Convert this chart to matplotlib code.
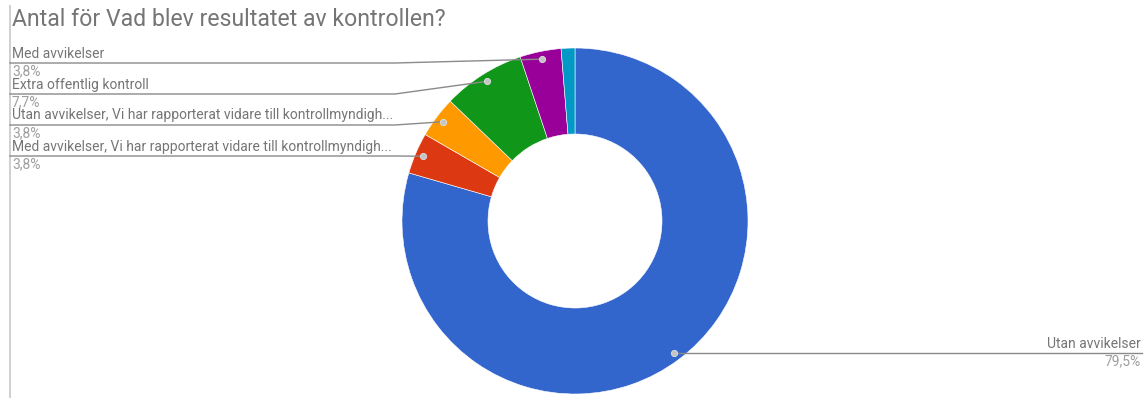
import matplotlib
matplotlib.use("Agg")
import matplotlib.pyplot as plt
import numpy as np

plt.rcParams["font.family"] = ["Roboto", "DejaVu Sans"]

# Survey answers, in the order the ring is drawn (clockwise from 12 o'clock).
# The last, smallest slice has no label shown.
labels = [
    "Utan avvikelser",
    "Med avvikelser, Vi har rapporterat vidare till kontrollmyndigh...",
    "Utan avvikelser, Vi har rapporterat vidare till kontrollmyndigh...",
    "Extra offentlig kontroll",
    "Med avvikelser",
    "",
]
counts = [62, 3, 3, 6, 3, 1]
pct_labels = ["79,5%", "3,8%", "3,8%", "7,7%", "3,8%", ""]
colors = ["#3366CC", "#DC3912", "#FF9900", "#109618", "#990099", "#0099C6"]

TITLE = "Antal för Vad blev resultatet av kontrollen?"

W, H = 1144, 398
CX, CY = 575, H - 221
R_OUT, R_IN = 173, 87

TEXT_C = "#757575"
PCT_C = "#9E9E9E"
LINE_C = "#8A8A8A"
FS = 10

fig = plt.figure(figsize=(W / 100, H / 100), dpi=100)
ax = fig.add_axes([0, 0, 1, 1])

wedges, _ = ax.pie(
    counts,
    colors=colors,
    startangle=90,
    counterclock=False,
    center=(CX, CY),
    radius=R_OUT,
    wedgeprops=dict(width=R_OUT - R_IN, edgecolor="white", linewidth=0.4),
)
ax.set_xlim(0, W)
ax.set_ylim(0, H)
ax.set_aspect("equal")
ax.axis("off")

# left border rule
ax.plot([10, 10], [0, H - 5], color="#C8C8C8", lw=1.2, solid_capstyle="butt")

ax.text(12, H - 20, TITLE, fontsize=16.6, color=TEXT_C, va="center", ha="left")


def anchor(w, frac=0.955):
    mid = np.deg2rad((w.theta1 + w.theta2) / 2)
    return CX + R_OUT * frac * np.cos(mid), CY + R_OUT * frac * np.sin(mid)


def dot(x, y):
    ax.plot(x, y, "o", ms=4.5, mfc="#C4C4C4", mec="#E0E0E0", mew=0.6, zorder=5)


# left-hand labels, stacked top to bottom
left_idx = [4, 3, 2, 1]
line_y = [63, 94, 125, 156]
elbow_x = 395
for i, ly in zip(left_idx, line_y):
    ax_, ay = anchor(wedges[i])
    ly = H - ly
    ax.plot([10, elbow_x, ax_], [ly, ly, ay], color=LINE_C, lw=1.0, zorder=4)
    dot(ax_, ay)
    ax.text(12, ly + 9.5, labels[i], fontsize=FS, color=TEXT_C, va="center", ha="left")
    ax.text(12, ly - 8.5, pct_labels[i], fontsize=FS, color=PCT_C, va="center", ha="left")

# right-hand label for the big slice
bx, by = anchor(wedges[0])
ax.plot([bx, 1142], [by, by], color=LINE_C, lw=1.0, zorder=4)
dot(bx, by)
ax.text(1141, by + 9.5, labels[0], fontsize=FS, color=TEXT_C, va="center", ha="right")
ax.text(1141, by - 8.5, pct_labels[0], fontsize=FS, color=PCT_C, va="center", ha="right")

fig.savefig("out.png", dpi=100)
